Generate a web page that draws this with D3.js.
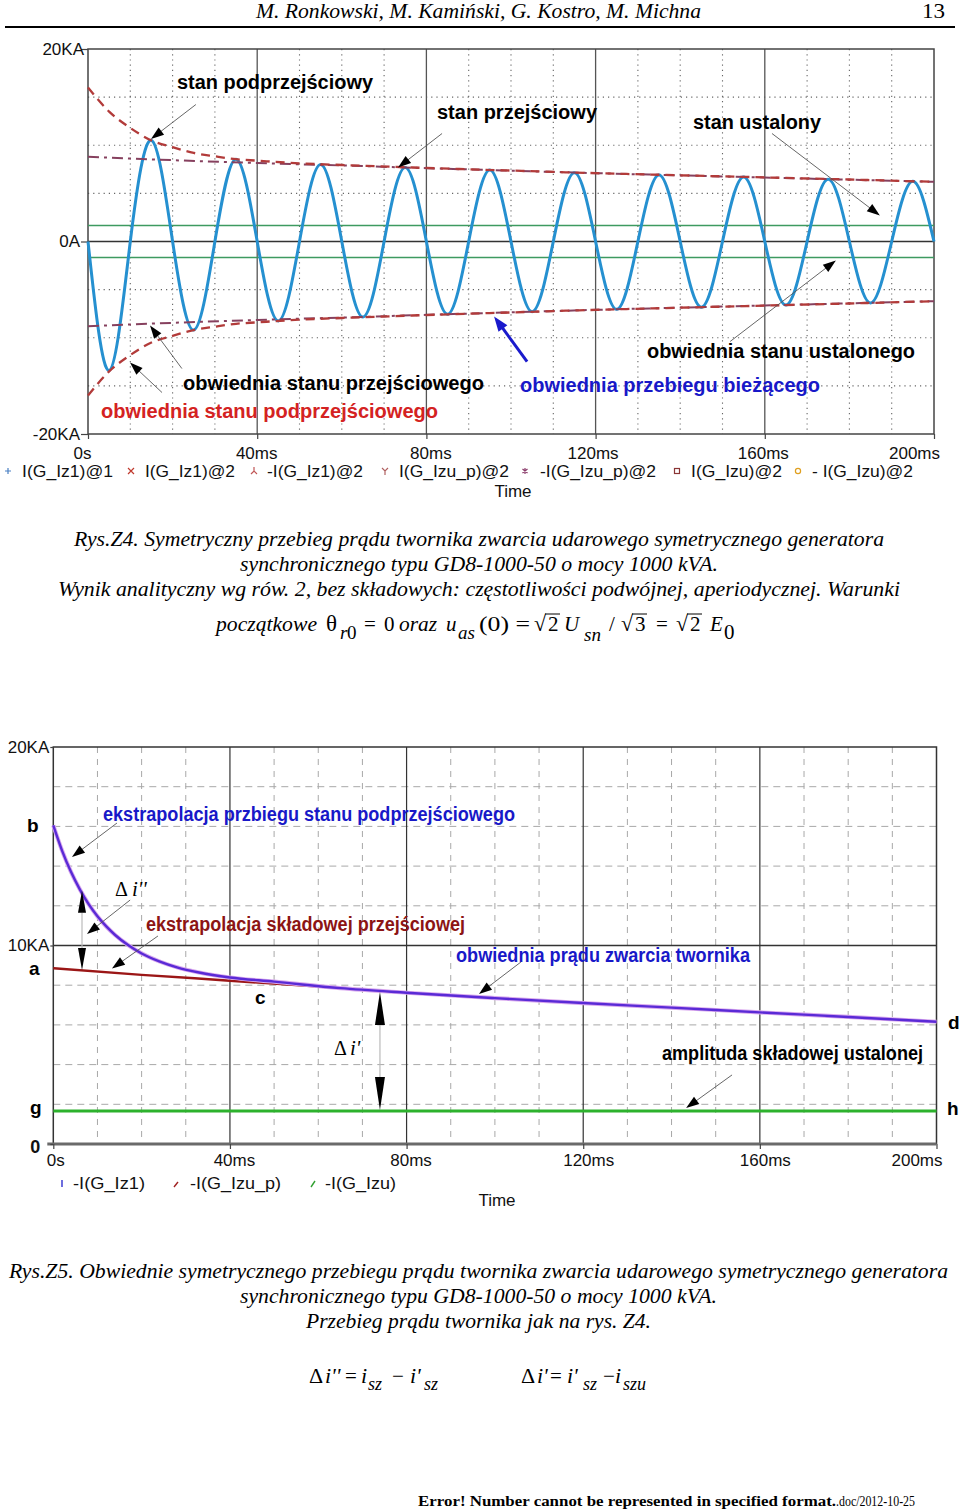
<!DOCTYPE html>
<html><head><meta charset="utf-8">
<script src="https://cdn.jsdelivr.net/npm/d3@7"></script>
<style>body{margin:0;background:#fff}svg{display:block}</style>
</head><body>
<svg id="c" width="960" height="1509"></svg>
<script>
// ================= DATA =================
const timeTicks = [0, 40, 80, 120, 160, 200];                 // ms
const timeTickLabels = ["0s", "40ms", "80ms", "120ms", "160ms", "200ms"];
const topYTicks = [-20, 0, 20];                               // KA
const topYTickLabels = ["-20KA", "0A", "20KA"];
const botYTicks = [0, 10, 20];
const botYTickLabels = ["0", "10KA", "20KA"];

// Rys.Z4 : armature current I(G_Iz1)@1 (KA) – zero crossings and extremes
const sineT = [0,5,10,15,20,25,30,35,40,45,50,55,60,65,70,75,80,85,90,95,100,105,110,115,120,125,130,135,140,145,150,155,160,165,170,175,180,185,190,195,200];
const sineI = [0,-13.4,0,10.5,0,-9.2,0,8.55,0,-8.25,0,8.0,0,-7.85,0,7.68,0,-7.55,0,7.42,0,-7.3,0,7.15,0,-7.05,0,6.92,0,-6.82,0,6.7,0,-6.6,0,6.48,0,-6.38,0,6.25,0];

// Rys.Z4 envelopes (magnitude, KA)
const envSubT = [0,5,10,15,20,25,30,35,40,50,60,80,100,120,140,160,180,200];
const envSubI = [16.0,13.5,11.8,10.5,9.8,9.2,8.85,8.55,8.4,8.12,7.95,7.64,7.37,7.1,6.88,6.66,6.44,6.2];
const envTrT = [0,20,40,60,80,100,120,140,160,180,200];
const envTrI = [8.8,8.45,8.15,7.9,7.62,7.36,7.1,6.87,6.65,6.42,6.2];
const steadyT = [0, 200];
const steadyI = [1.66, 1.66];

// Rys.Z5 envelopes (KA)
const izT = [0,2,4,6,8,10,12,14,17,20,24,28,33,40,50,65,80,100,120,140,160,180,200];
const izI = [16.05,14.77,13.71,12.83,12.08,11.47,10.96,10.53,10.01,9.6,9.2,8.9,8.64,8.39,8.18,7.85,7.62,7.35,7.1,6.87,6.63,6.4,6.16];
const izpT = [0,20,40,60,80,100,120,140,160,180,200];
const izpI = [8.85,8.52,8.23,7.93,7.62,7.35,7.1,6.87,6.63,6.4,6.16];
const izuT = [0, 200];
const izuI = [1.66, 1.66];

const legendTop = ["I(G_Iz1)@1", "I(G_Iz1)@2", "-I(G_Iz1)@2", "I(G_Izu_p)@2", "-I(G_Izu_p)@2", "I(G_Izu)@2", "- I(G_Izu)@2"];
const legendBot = ["-I(G_Iz1)", "-I(G_Izu_p)", "-I(G_Izu)"];

// ================= SETUP =================
const SANS = "'Liberation Sans', Arial, Helvetica, sans-serif";
const SERIF = "'Liberation Serif', 'Times New Roman', serif";
const svg = d3.select("#c");

function txt(g, x, y, s, o = {}) {
  const t = g.append("text").attr("x", x).attr("y", y).text(s)
    .attr("font-family", o.serif ? SERIF : SANS)
    .attr("font-size", o.size || 17)
    .attr("fill", o.fill || "#000");
  if (o.bold) t.attr("font-weight", "bold");
  if (o.italic) t.attr("font-style", "italic");
  if (o.anchor) t.attr("text-anchor", o.anchor);
  if (o.len) t.attr("textLength", o.len).attr("lengthAdjust", "spacingAndGlyphs");
  return t;
}
function arrow(g, x1, y1, x2, y2, o = {}) {
  const L = o.L || 13, W = o.W || 4.5, col = o.color || "#000";
  const dx = x2 - x1, dy = y2 - y1, d = Math.hypot(dx, dy), ux = dx / d, uy = dy / d;
  const bx = x2 - ux * L, by = y2 - uy * L;
  g.append("line").attr("x1", x1).attr("y1", y1).attr("x2", bx + ux * 2).attr("y2", by + uy * 2)
    .attr("stroke", o.lineColor || "#555").attr("stroke-width", o.lw || 0.9);
  g.append("path").attr("d", `M${x2},${y2}L${bx - uy * W},${by + ux * W}L${bx + uy * W},${by - ux * W}Z`).attr("fill", col);
}
function dblArrow(g, x, yTop, yBot, L, W) {
  g.append("line").attr("x1", x).attr("x2", x).attr("y1", yTop + L).attr("y2", yBot - L)
    .attr("stroke", "#bbb").attr("stroke-width", 1.2);
  g.append("path").attr("d", `M${x},${yTop}L${x - W},${yTop + L}L${x + W},${yTop + L}Z`).attr("fill", "#000");
  g.append("path").attr("d", `M${x},${yBot}L${x - W},${yBot - L}L${x + W},${yBot - L}Z`).attr("fill", "#000");
}

// ================= HEADER =================
txt(svg, 256, 18, "M. Ronkowski, M. Kamiński, G. Kostro, M. Michna", { serif: true, italic: true, size: 21, len: 445 });
txt(svg, 922, 18, "13", { serif: true, size: 21, len: 23 });
svg.append("line").attr("x1", 5).attr("x2", 955).attr("y1", 27).attr("y2", 27).attr("stroke", "#000").attr("stroke-width", 2);

// ================= TOP CHART =================
const xT = d3.scaleLinear().domain([0, 200]).range([88, 934]);
const yT = d3.scaleLinear().domain([-20, 20]).range([434, 49]);
const gT = svg.append("g");

// dotted minor grid
const minorX = d3.range(10, 200, 10).filter(v => v % 40 !== 0);
gT.selectAll(".vmin").data(minorX).join("line")
  .attr("x1", d => xT(d)).attr("x2", d => xT(d)).attr("y1", yT(20)).attr("y2", yT(-20))
  .attr("stroke", "#666").attr("stroke-width", 1.1).attr("stroke-dasharray", "1.2,4");
gT.selectAll(".hmin").data([-15, -10, -5, 5, 10, 15]).join("line")
  .attr("x1", xT(0)).attr("x2", xT(200)).attr("y1", d => yT(d)).attr("y2", d => yT(d))
  .attr("stroke", "#666").attr("stroke-width", 1.1).attr("stroke-dasharray", "1.2,4");
// major grid
gT.selectAll(".vmaj").data([40, 80, 120, 160]).join("line")
  .attr("x1", d => xT(d)).attr("x2", d => xT(d)).attr("y1", yT(20)).attr("y2", yT(-20))
  .attr("stroke", "#555").attr("stroke-width", 1.3);
gT.append("line").attr("x1", xT(0)).attr("x2", xT(200)).attr("y1", yT(0)).attr("y2", yT(0))
  .attr("stroke", "#333").attr("stroke-width", 1.5);
gT.append("rect").attr("x", xT(0)).attr("y", yT(20)).attr("width", xT(200) - xT(0)).attr("height", yT(-20) - yT(20))
  .attr("fill", "none").attr("stroke", "#444").attr("stroke-width", 1.5);

// axes
const axT = gT.append("g").attr("transform", `translate(0,${yT(-20)})`)
  .call(d3.axisBottom(xT).tickValues(timeTicks).tickFormat((d, i) => timeTickLabels[i]).tickSizeInner(5).tickSizeOuter(0).tickPadding(8));
const topDx = [-6, -1, 4, -3, -2, -20];
axT.selectAll(".tick text").attr("dx", (d, i) => topDx[i]);
const ayT = gT.append("g").attr("transform", `translate(${xT(0)},0)`)
  .call(d3.axisLeft(yT).tickValues(topYTicks).tickFormat((d, i) => topYTickLabels[i]).tickSizeInner(7).tickSizeOuter(0).tickPadding(1));
[axT, ayT].forEach(a => {
  a.select(".domain").remove();
  a.selectAll("text").attr("font-family", SANS).attr("font-size", 17).attr("fill", "#111");
  a.selectAll("line").attr("stroke", "#444").attr("stroke-width", 1.2);
});
ayT.selectAll(".tick").filter(d => d === 20).select("text").attr("dx", 4);

// steady state lines (green)
const lineT = (T, I, s) => d3.line().x((d, i) => xT(T[i])).y((d, i) => yT(s * I[i]));
[1, -1].forEach(s => {
  gT.append("path").attr("d", lineT(steadyT, steadyI, s)(steadyT)).attr("fill", "none")
    .attr("stroke", "#3d9a60").attr("stroke-width", 1.3);
});
// current waveform
gT.append("path").attr("d", d3.line().curve(d3.curveNatural).x((d, i) => xT(sineT[i])).y((d, i) => yT(sineI[i]))(sineT))
  .attr("fill", "none").attr("stroke", "#2590d0").attr("stroke-width", 3);
// envelopes
[1, -1].forEach(s => {
  gT.append("path").attr("d", lineT(envTrT, envTrI, s).curve(d3.curveMonotoneX)(envTrT)).attr("fill", "none")
    .attr("stroke", "#86405e").attr("stroke-width", 2).attr("stroke-dasharray", "11,5,3,5");
  gT.append("path").attr("d", lineT(envSubT, envSubI, s).curve(d3.curveMonotoneX)(envSubT)).attr("fill", "none")
    .attr("stroke", "#b23b3a").attr("stroke-width", 2.3).attr("stroke-dasharray", "9,6");
});

// annotations top
const annTop = [
  ["stan podprzejściowy", 177, 89, "#000", 196],
  ["stan przejściowy", 437, 119, "#000", 160],
  ["stan ustalony", 693, 129, "#000", 128],
  ["obwiednia stanu ustalonego", 647, 358, "#000", 268],
  ["obwiednia stanu przejściowego", 183, 390, "#000", 301],
  ["obwiednia przebiegu bieżącego", 520, 392, "#1818c8", 300],
  ["obwiednia stanu podprzejściowego", 101, 418, "#d42222", 337]
];
annTop.forEach(a => txt(gT, a[1], a[2], a[0], { bold: true, size: 19.5, fill: a[3], len: a[4] }));
// arrows (data coordinates: ms, KA)
const arrTop = [
  [25.5, 14.23, 14.9, 10.65], [83.7, 11.22, 73.3, 7.69], [161.7, 11.22, 187.2, 2.7],
  [151.8, -10.39, 176.8, -1.97], [22.2, -13.2, 14.66, -8.73], [17.5, -15.69, 9.93, -12.57]
];
arrTop.forEach(a => arrow(gT, xT(a[0]), yT(a[1]), xT(a[2]), yT(a[3])));
arrow(gT, xT(103.8), yT(-12.47), xT(96.0), yT(-7.79), { color: "#1a1acc", lineColor: "#1a1acc", lw: 3, L: 15, W: 5.5 });

// legend top
const legX = [22, 145, 267, 399, 540, 691, 812], legEnd = [113, 235, 363, 509, 656, 782, 913];
const symX = [8, 131, 254, 385, 525, 677, 798];
const symCol = ["#4a80c4", "#c03a2e", "#c05555", "#b06060", "#8a3a6a", "#8a3535", "#e0a020"];
const ly = 471;
legendTop.forEach((s, i) => txt(gT, legX[i], ly + 6, s, { size: 17, len: legEnd[i] - legX[i], fill: "#111" }));
const sym = gT.append("g").attr("fill", "none").attr("stroke-width", 1.2);
sym.append("path").attr("d", `M${symX[0] - 3},${ly}h6M${symX[0]},${ly - 3}v6`).attr("stroke", symCol[0]);
sym.append("path").attr("d", `M${symX[1] - 3},${ly - 3}l6,6M${symX[1] + 3},${ly - 3}l-6,6`).attr("stroke", symCol[1]);
sym.append("path").attr("d", `M${symX[2]},${ly - 4}V${ly}M${symX[2] - 3},${ly + 3}L${symX[2]},${ly}L${symX[2] + 3},${ly + 3}`).attr("stroke", symCol[2]);
sym.append("path").attr("d", `M${symX[3] - 3},${ly - 3}L${symX[3]},${ly}L${symX[3] + 3},${ly - 3}M${symX[3]},${ly}V${ly + 4}`).attr("stroke", symCol[3]);
sym.append("path").attr("d", `M${symX[4]},${ly - 3}v6M${symX[4] - 2.5},${ly - 2}l5,4M${symX[4] + 2.5},${ly - 2}l-5,4`).attr("stroke", symCol[4]);
sym.append("rect").attr("x", symX[5] - 2.5).attr("y", ly - 2.5).attr("width", 5).attr("height", 5).attr("stroke", symCol[5]);
sym.append("circle").attr("cx", symX[6]).attr("cy", ly).attr("r", 2.6).attr("stroke", symCol[6]);
txt(gT, 513, 497, "Time", { size: 17, anchor: "middle", fill: "#111" });

// ================= CAPTION Z4 =================
const cap = svg.append("g");
txt(cap, 74, 546, "Rys.Z4. Symetryczny przebieg prądu twornika zwarcia udarowego symetrycznego generatora", { serif: true, italic: true, size: 21, len: 810 });
txt(cap, 240, 571, "synchronicznego typu GD8-1000-50 o mocy 1000 kVA.", { serif: true, italic: true, size: 21, len: 478 });
txt(cap, 58, 596, "Wynik analityczny wg rów. 2, bez składowych: częstotliwości podwójnej, aperiodycznej. Warunki", { serif: true, italic: true, size: 21, len: 842 });
// formula line
const fb = 631, fs = 639;
txt(cap, 216, fb, "początkowe", { serif: true, italic: true, size: 21, len: 101 });
txt(cap, 326, fb, "θ", { serif: true, size: 23 });
txt(cap, 340, fs, "r", { serif: true, italic: true, size: 19 });
txt(cap, 347, fs, "0", { serif: true, size: 19 });
txt(cap, 364, fb, "=", { serif: true, size: 21 });
txt(cap, 384, fb, "0", { serif: true, size: 21 });
txt(cap, 399, fb, "oraz", { serif: true, italic: true, size: 21, len: 38 });
txt(cap, 446, fb, "u", { serif: true, italic: true, size: 21 });
txt(cap, 458, fs, "as", { serif: true, italic: true, size: 19 });
txt(cap, 479, fb, "(0) =", { serif: true, size: 21, len: 51 });
function radical(g, x, digit, base) {
  txt(g, x, base, "√", { serif: true, size: 22 });
  txt(g, x + 14, base, digit, { serif: true, size: 21 });
  g.append("line").attr("x1", x + 11).attr("x2", x + 26).attr("y1", base - 17).attr("y2", base - 17).attr("stroke", "#000").attr("stroke-width", 1);
}
radical(cap, 534, "2", fb);
txt(cap, 564, fb, "U", { serif: true, italic: true, size: 21 });
txt(cap, 584, fs + 2, "sn", { serif: true, italic: true, size: 19 });
txt(cap, 609, fb, "/", { serif: true, size: 21 });
radical(cap, 621, "3", fb);
txt(cap, 656, fb, "=", { serif: true, size: 21 });
radical(cap, 676, "2", fb);
txt(cap, 710, fb, "E", { serif: true, italic: true, size: 21 });
txt(cap, 724, fs, "0", { serif: true, size: 21 });

// ================= BOTTOM CHART =================
const xB = d3.scaleLinear().domain([0, 200]).range([53.3, 936.5]);
const yB = d3.scaleLinear().domain([0, 20]).range([1144, 747]);
const gB = svg.append("g");

gB.selectAll(".vmin").data(minorX).join("line")
  .attr("x1", d => xB(d)).attr("x2", d => xB(d)).attr("y1", yB(20)).attr("y2", yB(0))
  .attr("stroke", "#a8a8a8").attr("stroke-width", 1).attr("stroke-dasharray", "6,6");
gB.selectAll(".hmin").data([2, 4, 6, 8, 12, 14, 16, 18]).join("line")
  .attr("x1", xB(0)).attr("x2", xB(200)).attr("y1", d => yB(d)).attr("y2", d => yB(d))
  .attr("stroke", "#a8a8a8").attr("stroke-width", 1).attr("stroke-dasharray", "7,5");
gB.selectAll(".vmaj").data([40, 80, 120, 160]).join("line")
  .attr("x1", d => xB(d)).attr("x2", d => xB(d)).attr("y1", yB(20)).attr("y2", yB(0))
  .attr("stroke", "#333").attr("stroke-width", 1.2);
gB.append("line").attr("x1", xB(0)).attr("x2", xB(200)).attr("y1", yB(10)).attr("y2", yB(10))
  .attr("stroke", "#333").attr("stroke-width", 1.3);
gB.append("path").attr("d", `M${xB(0)},${yB(0)}V${yB(20)}H${xB(200)}V${yB(0)}`)
  .attr("fill", "none").attr("stroke", "#333").attr("stroke-width", 1.5);
gB.append("line").attr("x1", xB(0) - 6).attr("x2", xB(200)).attr("y1", yB(0)).attr("y2", yB(0))
  .attr("stroke", "#6a6a6a").attr("stroke-width", 3);

const axB = gB.append("g").attr("transform", `translate(0,${yB(0)})`)
  .call(d3.axisBottom(xB).tickValues(timeTicks).tickFormat((d, i) => timeTickLabels[i]).tickSizeInner(5).tickSizeOuter(0).tickPadding(5));
const botDx = [2, 4, 4, 5, 5, -20];
axB.selectAll(".tick text").attr("dx", (d, i) => botDx[i]);
const ayB = gB.append("g").attr("transform", `translate(${xB(0)},0)`)
  .call(d3.axisLeft(yB).tickValues(botYTicks).tickFormat((d, i) => botYTickLabels[i]).tickSizeInner(3).tickSizeOuter(0).tickPadding(1));
[axB, ayB].forEach(a => {
  a.select(".domain").remove();
  a.selectAll("text").attr("font-family", SANS).attr("font-size", 17).attr("fill", "#111");
  a.selectAll("line").attr("stroke", "#444").attr("stroke-width", 1.2);
});
ayB.selectAll(".tick").filter(d => d === 0).select("text").attr("x", -13).attr("font-weight", "bold").attr("font-size", 18).attr("dy", "0.45em");

const lineB = (T, I) => d3.line().curve(d3.curveMonotoneX).x((d, i) => xB(T[i])).y((d, i) => yB(I[i]));
gB.append("path").attr("d", lineB(izuT, izuI)(izuT)).attr("fill", "none").attr("stroke", "#2db22d").attr("stroke-width", 3);
gB.append("path").attr("d", lineB(izpT, izpI)(izpT)).attr("fill", "none").attr("stroke", "#9b1616").attr("stroke-width", 2.5);
gB.append("path").attr("d", lineB(izT, izI)(izT)).attr("fill", "none").attr("stroke", "#d8a8ee").attr("stroke-width", 4.2);
gB.append("path").attr("d", lineB(izT, izI)(izT)).attr("fill", "none").attr("stroke", "#5a2ad6").attr("stroke-width", 2.4);

// annotations bottom
const annBot = [
  ["ekstrapolacja przbiegu stanu podprzejściowego", 103, 821, "#1818c8", 412],
  ["ekstrapolacja składowej przejściowej", 146, 931, "#8c1414", 319],
  ["obwiednia prądu zwarcia twornika", 456, 962, "#1818c8", 294],
  ["amplituda składowej ustalonej", 662, 1060, "#000", 261]
];
annBot.forEach(a => txt(gB, a[1], a[2], a[0], { bold: true, size: 19.5, fill: a[3], len: a[4] }));
[["b", 27, 832], ["a", 29, 975], ["g", 30, 1114], ["c", 255, 1004], ["d", 948, 1029], ["h", 947, 1115]]
  .forEach(a => txt(gB, a[1], a[2], a[0], { bold: true, size: 19 }));
const arrBot = [
  [14.42, 16.17, 4.23, 14.46], [17.4, 12.29, 7.63, 10.58], [23.7, 10.48, 13.29, 8.84],
  [105.9, 9.17, 96.4, 7.56], [153.7, 3.48, 143.3, 1.81]
];
arrBot.forEach(a => arrow(gB, xB(a[0]), yB(a[1]), xB(a[2]), yB(a[3])));
dblArrow(gB, xB(6.5), yB(12.76), yB(8.77), 22, 4);
dblArrow(gB, xB(73.97), yB(7.66), yB(1.71), 33, 5);
txt(gB, 115, 896, "Δ", { serif: true, size: 20 });
txt(gB, 132, 896, "i''", { serif: true, italic: true, size: 21 });
txt(gB, 334, 1055, "Δ", { serif: true, size: 20 });
txt(gB, 350, 1055, "i'", { serif: true, italic: true, size: 21 });

// legend bottom
const bl = 1183;
gB.append("line").attr("x1", 62).attr("x2", 62).attr("y1", bl - 3).attr("y2", bl + 4).attr("stroke", "#3030d0").attr("stroke-width", 1.4);
gB.append("line").attr("x1", 174).attr("x2", 178).attr("y1", bl + 4).attr("y2", bl - 1).attr("stroke", "#a02020").attr("stroke-width", 1.4);
gB.append("line").attr("x1", 311).attr("x2", 315).attr("y1", bl + 4).attr("y2", bl - 2).attr("stroke", "#30a030").attr("stroke-width", 1.4);
const blX = [73, 190, 325], blE = [145, 281, 396];
legendBot.forEach((s, i) => txt(gB, blX[i], bl + 6, s, { size: 17, len: blE[i] - blX[i], fill: "#111" }));
txt(gB, 497, 1206, "Time", { size: 17, anchor: "middle", fill: "#111" });

// ================= CAPTION Z5 =================
const cap2 = svg.append("g");
txt(cap2, 9, 1278, "Rys.Z5. Obwiednie symetrycznego przebiegu prądu twornika zwarcia udarowego symetrycznego generatora", { serif: true, italic: true, size: 21, len: 939 });
txt(cap2, 240, 1303, "synchronicznego typu GD8-1000-50 o mocy 1000 kVA.", { serif: true, italic: true, size: 21, len: 477 });
txt(cap2, 306, 1328, "Przebieg prądu twornika jak na rys. Z4.", { serif: true, italic: true, size: 21, len: 345 });

const qb = 1383, qs = 1390;
txt(cap2, 309, qb, "Δ", { serif: true, size: 22 });
txt(cap2, 325, qb, "i''", { serif: true, italic: true, size: 22 });
txt(cap2, 345, qb, "=", { serif: true, size: 21 });
txt(cap2, 361, qb, "i", { serif: true, italic: true, size: 22 });
txt(cap2, 368, qs, "sz", { serif: true, italic: true, size: 18 });
txt(cap2, 392, qb, "−", { serif: true, size: 21 });
txt(cap2, 410, qb, "i'", { serif: true, italic: true, size: 22 });
txt(cap2, 424, qs, "sz", { serif: true, italic: true, size: 18 });

txt(cap2, 521, qb, "Δ", { serif: true, size: 22 });
txt(cap2, 537, qb, "i'", { serif: true, italic: true, size: 22 });
txt(cap2, 550, qb, "=", { serif: true, size: 21 });
txt(cap2, 567, qb, "i'", { serif: true, italic: true, size: 22 });
txt(cap2, 583, qs, "sz", { serif: true, italic: true, size: 18 });
txt(cap2, 603, qb, "−", { serif: true, size: 21 });
txt(cap2, 615, qb, "i", { serif: true, italic: true, size: 22 });
txt(cap2, 623, qs, "szu", { serif: true, italic: true, size: 18 });

// footer
txt(svg, 418, 1506, "Error! Number cannot be represented in specified format.", { serif: true, bold: true, size: 15, len: 418 });
txt(svg, 836, 1506, ".doc/2012-10-25", { serif: true, size: 15, len: 79 });
</script>
</body></html>
